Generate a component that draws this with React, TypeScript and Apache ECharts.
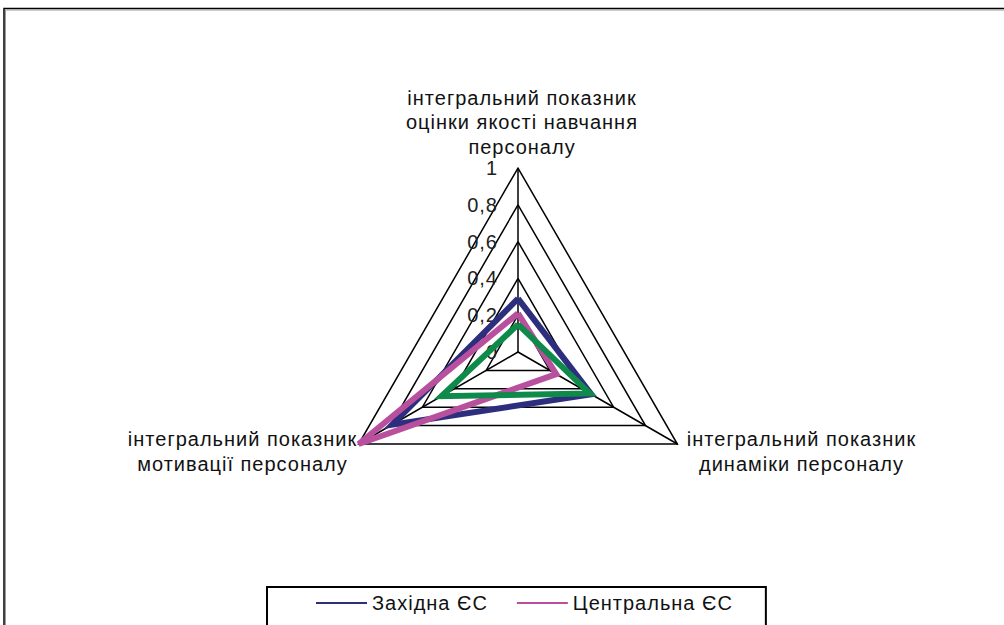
import { useEffect, useRef } from 'react';
import * as echarts from 'echarts';

const indicatorNames = [
  'інтегральний показник\nоцінки якості навчання\nперсоналу',
  'інтегральний показник\nмотивації персоналу',
  'інтегральний показник\nдинаміки персоналу',
];
const axisMin = 0;
const axisMax = 1;
const seriesNames = ['Західна ЄС', 'Центральна ЄС', 'Східна ЄС'];
const legendNames = ['Західна ЄС', 'Центральна ЄС'];
const westValues = [0.29, 0.79, 0.46];
const centralValues = [0.21, 1.0, 0.24];
const eastValues = [0.15, 0.48, 0.45];
const seriesValues = [westValues, centralValues, eastValues];
const seriesColors = ['#2E2E7E', '#B8509E', '#0E8A4A'];

const FONT = 'Arial, "Liberation Sans", sans-serif';

export default function App() {
  const ref = useRef<HTMLDivElement>(null);
  useEffect(() => {
    if (!ref.current) return;
    const chart = echarts.init(ref.current, null, { renderer: 'svg' });
    const namePaddings = [
      [0, 0, 9, 8],
      [15, 12, 0, 0],
      [15, 0, 0, 20],
    ];
    chart.setOption({
      animation: false,
      textStyle: { fontFamily: FONT },
      graphic: [
        {
          type: 'rect',
          silent: true,
          shape: { x: 4, y: 8.5, width: 1200, height: 800 },
          style: { fill: 'none', stroke: '#000', lineWidth: 1.5 },
        },
        {
          type: 'rect',
          silent: true,
          shape: { x: 5.5, y: 10, width: 1200, height: 800 },
          style: { fill: 'none', stroke: '#9a9a9a', lineWidth: 1 },
        },
      ],
      legend: {
        data: legendNames,
        left: 267,
        top: 587,
        orient: 'horizontal',
        padding: [6, 46, 40, 49],
        itemGap: 39,
        itemWidth: 51,
        itemHeight: 2,
        icon: 'rect',
        borderColor: '#000',
        borderWidth: 2,
        selectedMode: false,
        textStyle: { fontSize: 20, color: '#111', fontFamily: FONT },
      },
      radar: {
        center: [518, 352],
        radius: 184,
        startAngle: 90,
        shape: 'polygon',
        splitNumber: 5,
        nameGap: 0,
        axisName: {
          color: '#111',
          fontSize: 20,
          fontFamily: FONT,
          formatter: (n: string) =>
            n
              .split('\n')
              .map((l) => `{c|${l}}`)
              .join('\n'),
          rich: {
            c: {
              fontSize: 20,
              lineHeight: 24.5,
              align: 'center',
              color: '#111',
              fontFamily: FONT,
            },
          },
        },
        indicator: indicatorNames.map((name, i) => ({
          name,
          min: axisMin,
          max: axisMax,
          axisLabel: { show: i === 0 },
          nameTextStyle: { padding: namePaddings[i] },
        })),
        axisLine: { show: true, lineStyle: { color: '#000', width: 1.5 } },
        splitLine: { show: true, lineStyle: { color: '#000', width: 1.5 } },
        splitArea: { show: false },
        axisTick: { show: false },
        axisLabel: {
          show: false,
          fontSize: 20,
          color: '#222',
          margin: 20,
          fontFamily: FONT,
          formatter: (v: number) => String(Number(v.toFixed(1))).replace('.', ','),
        },
      },
      series: [
        {
          type: 'radar',
          symbol: 'none',
          silent: true,
          emphasis: { disabled: true },
          data: seriesNames.map((n, i) => ({
            name: n,
            value: seriesValues[i],
            lineStyle: { color: seriesColors[i], width: 6, join: 'miter' },
            itemStyle: { color: seriesColors[i] },
          })),
        },
      ],
    });
    return () => chart.dispose();
  }, []);
  return (
    <div
      style={{
        position: 'fixed',
        left: 0,
        top: 0,
        width: 1004,
        height: 625,
        overflow: 'hidden',
        background: '#fff',
        letterSpacing: '1px',
      }}
    >
      <div ref={ref} style={{ width: 1004, height: 625 }} />
    </div>
  );
}
